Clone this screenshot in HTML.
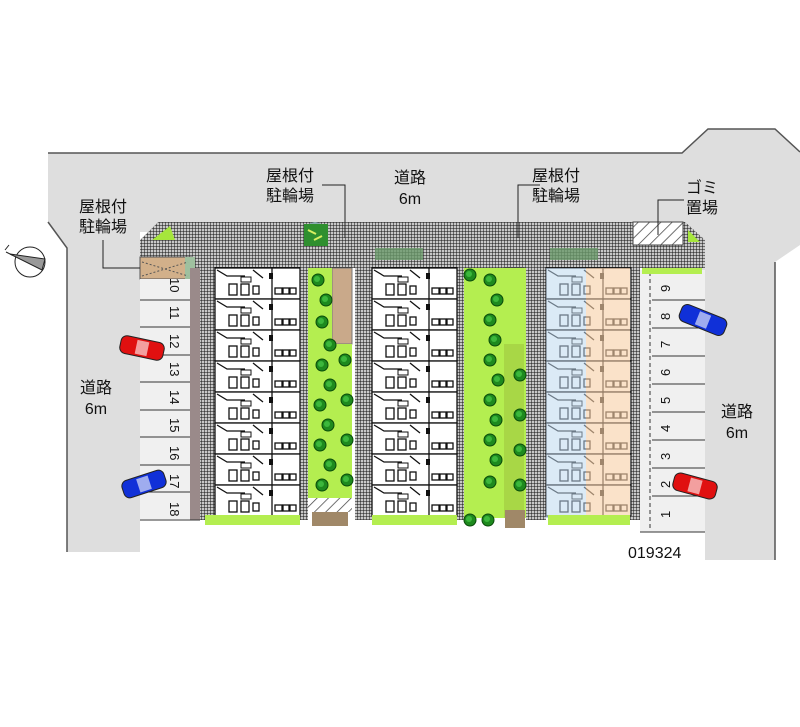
<!DOCTYPE html>
<html><head><meta charset="utf-8"><style>
html,body{margin:0;padding:0;background:#fff;width:800px;height:727px;overflow:hidden}
svg{display:block}
text{font-family:"Liberation Sans","Noto Sans CJK JP",sans-serif;fill:#111}
</style></head><body>
<svg width="800" height="727" viewBox="0 0 800 727" xmlns="http://www.w3.org/2000/svg">
<defs>
<pattern id="grid" width="3" height="3" patternUnits="userSpaceOnUse">
<rect width="3" height="3" fill="#c8c8c8"/><path d="M0 0H3M0 0V3" stroke="#111" stroke-width="1"/>
</pattern>
<pattern id="hat" width="8" height="8" patternUnits="userSpaceOnUse" patternTransform="rotate(45)">
<rect width="8" height="8" fill="#fff"/><path d="M0 0V8" stroke="#444" stroke-width="1.5"/>
</pattern>
<g id="unitL">
<rect x="0" y="0" width="85" height="31" fill="#fff" stroke="#111" stroke-width="1.3"/>
<path d="M2 2 L12 8 L30 8 M38 2 L48 10" stroke="#111" fill="none" stroke-width="1.3"/>
<rect x="14" y="16" width="8" height="11" fill="none" stroke="#111" stroke-width="1.3"/>
<rect x="26" y="16" width="8" height="11" fill="none" stroke="#111" stroke-width="1.3"/>
<rect x="38" y="18" width="6" height="8" fill="none" stroke="#111" stroke-width="1.3"/>
<rect x="26" y="9" width="10" height="5" fill="none" stroke="#111"/>
<rect x="54" y="5" width="4" height="6" fill="#111"/>
<path d="M57 0V31" stroke="#111" stroke-width="1.3"/>
<rect x="60" y="20" width="7" height="6" fill="none" stroke="#111" stroke-width="1.3"/>
<rect x="68" y="20" width="6" height="6" fill="none" stroke="#111" stroke-width="1.3"/>
<rect x="75" y="20" width="6" height="6" fill="none" stroke="#111" stroke-width="1.3"/>
</g>
<g id="tree"><circle r="6" fill="#1e8a1e" stroke="#0a4a0a"/><circle r="3" cx="-1" cy="-1" fill="#3cb83c"/></g>
</defs>

<path d="M48 153 H682 L708 129 H775 L800 152 V245 L775 262 V560 H705 V270 H645 V232 L140 232 V552 H67 V248 L48 222 Z" fill="#dedede"/>
<path d="M48 153 H682 L708 129 H775 L800 152" fill="none" stroke="#555" stroke-width="1.5"/>
<path d="M48 222 L67 248 V552 M775 262 V560" fill="none" stroke="#555" stroke-width="1.5"/>

<path d="M140 240 L158 222 H685 L705 240 V268 H140 Z" fill="url(#grid)"/>
<polygon points="152,240 170,226 175,240" fill="#a6e63c"/>
<rect x="633" y="222" width="50" height="23" fill="url(#hat)" stroke="#444"/>
<polygon points="688,230 700,242 688,242" fill="#a6e63c"/>
<circle cx="315" cy="233" r="11" fill="#8aabb0"/>
<rect x="304" y="224" width="24" height="22" fill="#2f8f2f"/>
<path d="M308 230 l8 4 M314 240 l8 -4" stroke="#d8f060" stroke-width="2"/>
<rect x="375" y="248" width="48" height="12" fill="#6a9a6a" opacity=".8"/>
<rect x="550" y="248" width="48" height="12" fill="#6a9a6a" opacity=".8"/>

<rect x="140" y="257" width="52" height="22" fill="#d2b08a" stroke="#555"/>
<rect x="185" y="257" width="10" height="22" fill="#9fc09f"/>
<path d="M142 262 L188 276 M142 276 L188 262" stroke="#555" stroke-dasharray="2 2"/>
<rect x="332" y="268" width="20" height="76" fill="#c9a98a" stroke="#777"/>
<rect x="504" y="268" width="20" height="76" fill="#c9a98a" stroke="#777"/>

<rect x="140" y="279" width="50" height="240" fill="#f0f0f0"/>
<rect x="190" y="268" width="10" height="252" fill="#9a8a8a"/>
<g stroke="#333" stroke-width="1">
<path d="M140 300H190M140 327H190M140 355H190M140 382H190M140 410H190M140 437H190M140 465H190M140 492H190M140 520H200"/>
</g>
<g font-size="13" transform="rotate(90)">
<text x="278" y="-170">10</text><text x="306" y="-170">11</text><text x="334" y="-170">12</text><text x="362" y="-170">13</text><text x="390" y="-170">14</text><text x="418" y="-170">15</text><text x="446" y="-170">16</text><text x="474" y="-170">17</text><text x="502" y="-170">18</text>
</g>

<rect x="640" y="270" width="65" height="262" fill="#f0f0f0"/>
<g stroke="#333" stroke-width="1">
<path d="M652 300H705M652 328H705M652 356H705M652 384H705M652 412H705M652 440H705M652 468H705M652 496H705M640 532H705"/>
<path d="M650 272V530" stroke-dasharray="4 3"/>
</g>
<g font-size="13" transform="rotate(-90)">
<text x="-292" y="670">9</text><text x="-320" y="670">8</text><text x="-348" y="670">7</text><text x="-376" y="670">6</text><text x="-404" y="670">5</text><text x="-432" y="670">4</text><text x="-460" y="670">3</text><text x="-488" y="670">2</text><text x="-518" y="670">1</text>
</g>

<rect x="200" y="268" width="16" height="252" fill="url(#grid)"/>
<rect x="300" y="268" width="8" height="252" fill="url(#grid)"/>
<rect x="355" y="268" width="18" height="252" fill="url(#grid)"/>
<rect x="456" y="268" width="8" height="252" fill="url(#grid)"/>
<rect x="526" y="268" width="20" height="252" fill="url(#grid)"/>
<rect x="630" y="268" width="10" height="252" fill="url(#grid)"/>
<g>
<use href="#unitL" x="215" y="268"/><use href="#unitL" x="215" y="299"/><use href="#unitL" x="215" y="330"/><use href="#unitL" x="215" y="361"/>
<use href="#unitL" x="215" y="392"/><use href="#unitL" x="215" y="423"/><use href="#unitL" x="215" y="454"/><use href="#unitL" x="215" y="485"/>
<use href="#unitL" x="372" y="268"/><use href="#unitL" x="372" y="299"/><use href="#unitL" x="372" y="330"/><use href="#unitL" x="372" y="361"/>
<use href="#unitL" x="372" y="392"/><use href="#unitL" x="372" y="423"/><use href="#unitL" x="372" y="454"/><use href="#unitL" x="372" y="485"/>
</g>
<rect x="546" y="268" width="40" height="250" fill="#bcd8f0"/>
<rect x="586" y="268" width="44" height="250" fill="#f8d0a8"/>
<g>
<use href="#unitL" x="546" y="268" opacity=".85"/><use href="#unitL" x="546" y="299" opacity=".85"/><use href="#unitL" x="546" y="330" opacity=".85"/><use href="#unitL" x="546" y="361" opacity=".85"/>
<use href="#unitL" x="546" y="392" opacity=".85"/><use href="#unitL" x="546" y="423" opacity=".85"/><use href="#unitL" x="546" y="454" opacity=".85"/><use href="#unitL" x="546" y="485" opacity=".85"/>
</g>
<rect x="546" y="268" width="40" height="250" fill="#bcd8f0" opacity=".45"/>
<rect x="586" y="268" width="44" height="250" fill="#f8d0a8" opacity=".55"/>

<rect x="308" y="268" width="24" height="230" fill="#b4ee50"/>
<rect x="332" y="344" width="20" height="154" fill="#b4ee50"/>
<rect x="464" y="268" width="62" height="250" fill="#b4ee50"/>
<rect x="504" y="344" width="20" height="174" fill="#a0c840" opacity=".6"/>
<rect x="308" y="498" width="44" height="14" fill="url(#hat)"/>
<rect x="312" y="512" width="36" height="14" fill="#a08868"/>
<rect x="505" y="510" width="20" height="18" fill="#a08868"/>
<rect x="205" y="515" width="95" height="10" fill="#b4ee50"/>
<rect x="372" y="515" width="85" height="10" fill="#b4ee50"/>
<rect x="548" y="515" width="82" height="10" fill="#b4ee50"/>
<rect x="642" y="268" width="60" height="6" fill="#b4ee50"/>
<g>
<use href="#tree" x="318" y="280"/><use href="#tree" x="326" y="300"/><use href="#tree" x="322" y="322"/><use href="#tree" x="330" y="345"/><use href="#tree" x="322" y="365"/><use href="#tree" x="330" y="385"/><use href="#tree" x="320" y="405"/><use href="#tree" x="328" y="425"/><use href="#tree" x="320" y="445"/><use href="#tree" x="330" y="465"/><use href="#tree" x="322" y="485"/>
<use href="#tree" x="345" y="360"/><use href="#tree" x="347" y="400"/><use href="#tree" x="347" y="440"/><use href="#tree" x="347" y="480"/>
<use href="#tree" x="490" y="280"/><use href="#tree" x="497" y="300"/><use href="#tree" x="490" y="320"/><use href="#tree" x="495" y="340"/><use href="#tree" x="490" y="360"/><use href="#tree" x="498" y="380"/><use href="#tree" x="490" y="400"/><use href="#tree" x="496" y="420"/><use href="#tree" x="490" y="440"/><use href="#tree" x="496" y="460"/><use href="#tree" x="490" y="482"/><use href="#tree" x="470" y="275"/>
<use href="#tree" x="520" y="375"/><use href="#tree" x="520" y="415"/><use href="#tree" x="520" y="450"/><use href="#tree" x="520" y="485"/><use href="#tree" x="470" y="520"/><use href="#tree" x="488" y="520"/>
</g>

<g transform="translate(142,348) rotate(12)"><rect x="-22" y="-9" width="44" height="18" rx="6" fill="#e01010" stroke="#222"/><rect x="-6" y="-7" width="12" height="14" fill="#fff" opacity=".6"/></g>
<g transform="translate(144,484) rotate(-18)"><rect x="-22" y="-9" width="44" height="18" rx="6" fill="#1030d8" stroke="#222"/><rect x="-6" y="-7" width="12" height="14" fill="#fff" opacity=".6"/></g>
<g transform="translate(703,320) rotate(22)"><rect x="-24" y="-9" width="48" height="18" rx="6" fill="#1030d8" stroke="#222"/><rect x="-6" y="-7" width="12" height="14" fill="#fff" opacity=".6"/></g>
<g transform="translate(695,486) rotate(15)"><rect x="-22" y="-9" width="44" height="18" rx="6" fill="#e01010" stroke="#222"/><rect x="-6" y="-7" width="12" height="14" fill="#fff" opacity=".6"/></g>

<g stroke="#222" fill="none" stroke-width="1">
<path d="M103 240 V268 H140"/>
<path d="M322 185 H345 V238"/>
<path d="M540 185 H518 V238"/>
<path d="M684 200 H658 V235"/>
</g>

<g font-size="16" text-anchor="middle">
<text x="103" y="212">屋根付</text><text x="103" y="232">駐輪場</text>
<text x="290" y="181">屋根付</text><text x="290" y="201">駐輪場</text>
<text x="410" y="183">道路</text><text x="410" y="204">6m</text>
<text x="556" y="181">屋根付</text><text x="556" y="201">駐輪場</text>
<text x="702" y="193">ゴミ</text><text x="702" y="213">置場</text>
<text x="96" y="393">道路</text><text x="96" y="414">6m</text>
<text x="737" y="417">道路</text><text x="737" y="438">6m</text>
</g>
<text x="628" y="558" font-size="16" font-family="Liberation Mono">019324</text>

<g transform="translate(30,262)">
<circle r="15" fill="#fff" stroke="#222"/>
<polygon points="-20,-8 15,-3 12,8" fill="#999" stroke="#222"/>
<path d="M-25 -12 l4 -5 M-24 -10 l6 3" stroke="#222"/>
</g>
</svg>
</body></html>
